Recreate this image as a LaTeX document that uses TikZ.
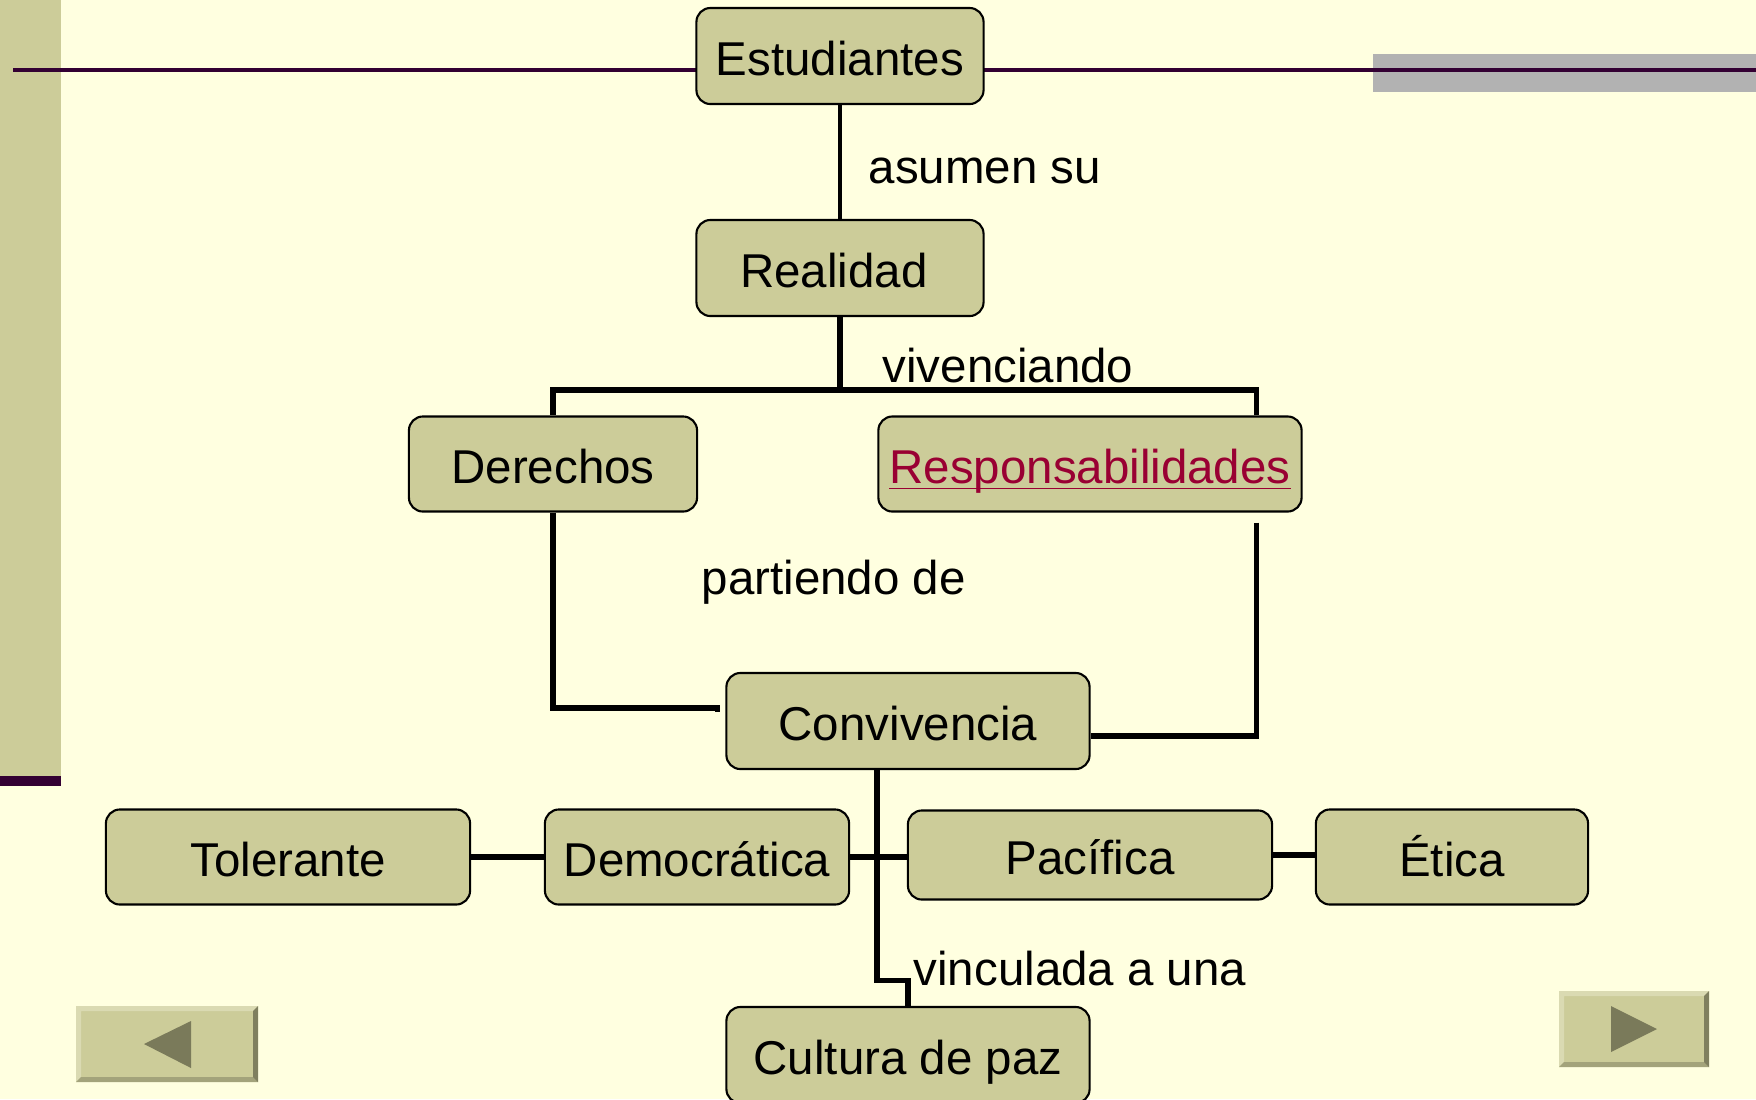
\documentclass[tikz,border=0pt]{standalone}
\usepackage{fontspec}
\setmainfont{Liberation Sans}
\usepackage{xcolor}
\usetikzlibrary{calc}

\definecolor{pagebg}{HTML}{FFFFE0}
\definecolor{olivefill}{HTML}{CCCC99}
\definecolor{rulepurple}{HTML}{330033}
\definecolor{barsgray}{HTML}{B2B2B2}
\definecolor{linkred}{HTML}{990033}
\definecolor{arrowdark}{HTML}{7A7A5A}
\definecolor{bevellight}{HTML}{DADAB2}
\definecolor{bevelshade}{HTML}{A3A37B}
\definecolor{beveldark}{HTML}{7F7F5F}

\begin{document}
\begin{tikzpicture}[x=0.01cm, y=-0.01cm,
  box/.style={draw, line width=0.6pt, fill=olivefill, rounded corners=0.14cm,
    inner sep=0pt, text height=11pt, text depth=0pt,
    font=\fontsize{13.5}{16}\selectfont},
  lbl/.style={anchor=base west, inner sep=0pt, font=\fontsize{13.5}{16}\selectfont},
  link/.style={line width=1.45pt},
  joint/.style={line width=1.7pt}]
  \useasboundingbox (0,0) rectangle (1756,1099);
  \clip (0,0) rectangle (1756,1099);
  \fill[pagebg] (0,0) rectangle (1756,1099);

  % Slide decoration
  \fill[olivefill] (0,0) rectangle (61,776);
  \fill[rulepurple] (0,776) rectangle (61,786);
  \fill[barsgray] (1373,54) rectangle (1756,92);
  \draw[rulepurple, line width=0.9pt] (13,70) -- (1756,70);

  % Concept boxes
  \node[box, minimum width=2.87cm, minimum height=0.96cm] (est) at (840,56) {Estudiantes};
  \node[box, minimum width=2.87cm, minimum height=0.96cm] (real) at (840,268) {Realidad\kern0.12cm};
  \node[box, minimum width=2.88cm, minimum height=0.95cm] (der) at (553,464) {Derechos};
  \node[box, minimum width=4.23cm, minimum height=0.95cm] (resp) at (1090,464)
    {\textcolor{linkred}{\underline{\smash{Responsabilidades}}}};
  \node[box, minimum width=3.63cm, minimum height=0.96cm] (conv) at (908,721) {Convivencia};
  \node[box, minimum width=3.64cm, minimum height=0.95cm] (tol) at (288,857) {Tolerante};
  \node[box, minimum width=3.04cm, minimum height=0.95cm] (dem) at (697,857) {Democrática};
  \node[box, minimum width=3.64cm, minimum height=0.89cm] (pac) at (1090,855) {Pacífica};
  \node[box, minimum width=2.72cm, minimum height=0.95cm] (eti) at (1452,857) {Ética};
  \node[box, minimum width=3.63cm, minimum height=0.96cm] (cult) at (908,1055) {Cultura de paz};

  % Connectors
  \coordinate (fork) at (840,390);
  \draw[line width=1.1pt] (est) -- (real);
  \draw[link] (real.south) -- (fork) -| (der.north);
  \draw[link] (fork) -| ([xshift=-0.46cm]resp.north east);
  \draw[link] (der.south) |- ([xshift=-0.08cm,yshift=0.13cm]conv.west) -- ++(0,4);
  \draw[link] ([xshift=-0.46cm,yshift=-0.1cm]resp.south east) |- ([yshift=-0.15cm]conv.east);
  \draw[link] ([xshift=-0.31cm]conv.south) |- ([yshift=0.25cm]cult.north) -- (cult.north);
  \draw[joint] (tol) -- (dem);
  \draw[joint] (dem.east) -- (dem.east -| pac.west);
  \draw[joint] (pac) -- (pac -| eti.west);

  % Linking words
  \node[lbl] (asumen) at (868,183) {asumen su};
  \node[lbl] (viv) at (882,382) {vivenciando};
  \node[lbl] (part) at (701,594) {partiendo de};
  \node[lbl] (vinc) at (913,985) {vinculada a una};

  % Back button
  \fill[olivefill] (76,1006) rectangle (258,1082);
  \fill[bevellight] (76,1006) -- (258,1006) -- (253,1011) -- (81,1011) -- (81,1077) -- (76,1082) -- cycle;
  \fill[bevelshade] (76,1082) -- (81,1077) -- (253,1077) -- (258,1082) -- cycle;
  \fill[beveldark] (258,1006) -- (258,1082) -- (253,1077) -- (253,1011) -- cycle;
  \fill[arrowdark] (144,1044) -- (191,1021) -- (191,1068) -- cycle;

  % Forward button
  \fill[olivefill] (1559,991) rectangle (1709,1067);
  \fill[bevellight] (1559,991) -- (1709,991) -- (1704,996) -- (1564,996) -- (1564,1062) -- (1559,1067) -- cycle;
  \fill[bevelshade] (1559,1067) -- (1564,1062) -- (1704,1062) -- (1709,1067) -- cycle;
  \fill[beveldark] (1709,991) -- (1709,1067) -- (1704,1062) -- (1704,996) -- cycle;
  \fill[arrowdark] (1611,1006) -- (1657,1029) -- (1611,1052) -- cycle;
\end{tikzpicture}
\end{document}
